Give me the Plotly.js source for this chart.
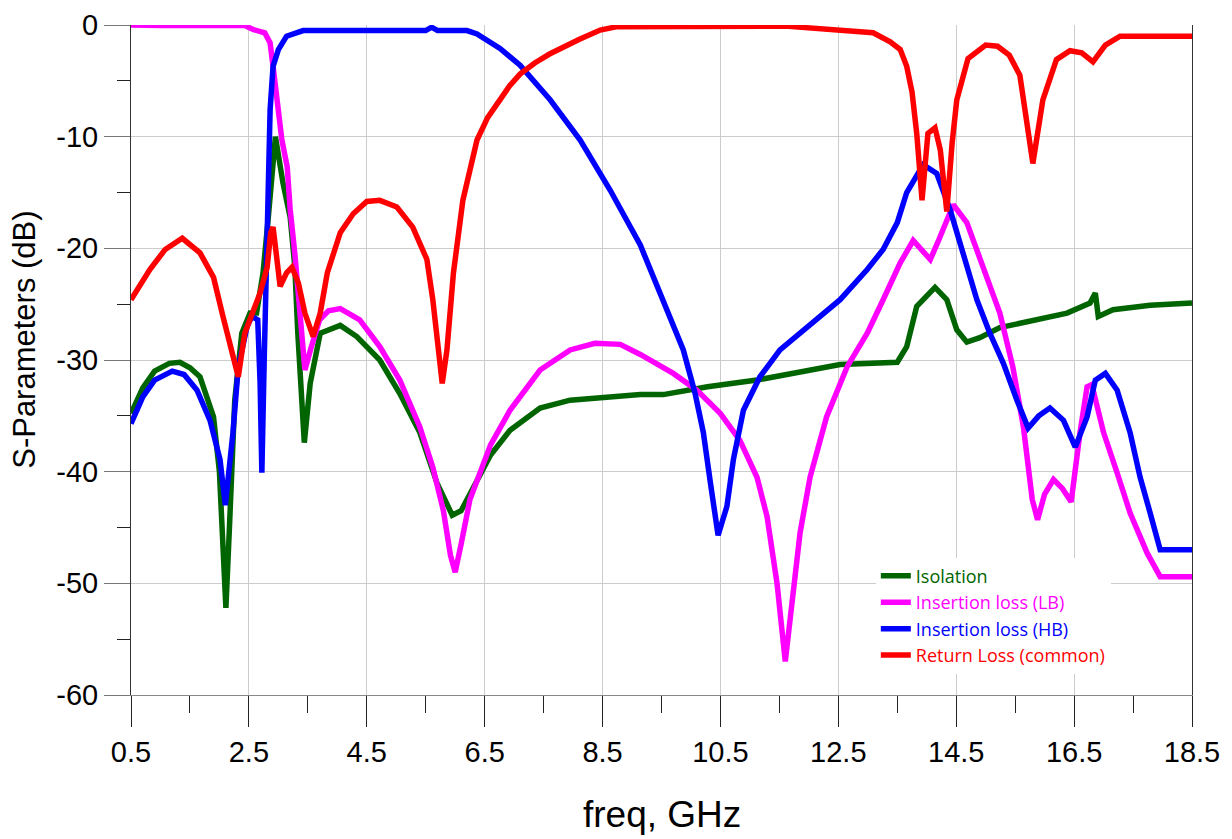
<!DOCTYPE html>
<html>
<head>
<meta charset="utf-8">
<script src="https://cdn.plot.ly/plotly-3.0.1.min.js"></script>
<style>html,body{margin:0;padding:0;background:#fff;}#chart{width:1232px;height:839px;}</style>
</head>
<body>
<div id="chart"></div>
<script>
// Isolation
const isoF  = [0.5,0.7,0.9,1.15,1.33,1.5,1.67,1.9,2.0,2.06,2.11,2.17,2.26,2.38,2.52,2.63,2.74,2.83,2.95,3.08,3.2,3.28,3.33,3.44,3.54,3.71,4.05,4.33,4.72,5.06,5.4,5.69,5.95,6.1,6.25,6.6,6.93,7.44,7.95,8.46,9.14,9.53,10.28,11.12,11.97,12.53,13.5,13.66,13.83,14.14,14.34,14.51,14.68,14.9,15.24,15.8,16.38,16.77,16.86,16.91,17.16,17.79,18.5];
const isoDb = [-34.8,-32.5,-31.0,-30.3,-30.2,-30.7,-31.5,-35.1,-40,-47,-52.2,-45,-33.6,-27.6,-25.8,-25.8,-22.2,-17.2,-10.0,-14.2,-17.2,-21.7,-27.6,-37.4,-32.1,-27.6,-26.9,-27.9,-30.0,-33.0,-36.5,-41.0,-43.9,-43.5,-42,-38.5,-36.3,-34.3,-33.6,-33.4,-33.1,-33.1,-32.4,-31.8,-30.9,-30.4,-30.2,-28.8,-25.2,-23.5,-24.6,-27.3,-28.4,-28.0,-27.1,-26.4,-25.8,-24.9,-24.0,-26.1,-25.5,-25.1,-24.9];

// Insertion loss (LB)
const lbF  = [0.5,1.0,2.43,2.57,2.77,2.86,2.91,2.98,3.06,3.15,3.2,3.28,3.35,3.45,3.55,3.7,3.85,4.05,4.38,4.72,5.06,5.4,5.62,5.8,5.92,6.0,6.1,6.25,6.6,6.93,7.44,7.95,8.37,8.8,9.14,9.7,10.1,10.5,10.83,11.12,11.29,11.46,11.6,11.71,11.85,12.02,12.3,12.65,12.99,13.26,13.55,13.77,13.9,14.06,14.2,14.45,14.68,14.95,15.24,15.46,15.64,15.79,15.88,16.0,16.15,16.3,16.45,16.6,16.72,16.8,17.0,17.23,17.45,17.74,17.96,18.5];
const lbDb = [0,-0.05,-0.05,-0.4,-0.7,-1.6,-3.7,-6.7,-10.3,-12.7,-16.5,-20.5,-24.5,-30.9,-29.0,-26.4,-25.6,-25.4,-26.4,-28.8,-31.8,-36.0,-39.6,-43.5,-47.5,-49.0,-46.5,-42.5,-37.6,-34.5,-30.9,-29.1,-28.5,-28.6,-29.5,-31.2,-32.7,-34.8,-37.2,-40.5,-44.0,-50.0,-57.0,-51.5,-45.5,-40.5,-35.1,-30.6,-27.6,-24.6,-21.3,-19.3,-20.0,-21.0,-19.3,-16.1,-17.7,-21.7,-25.8,-30.6,-36.0,-42.5,-44.3,-42.0,-40.7,-41.5,-42.7,-36.5,-32.4,-32.2,-36.5,-40.1,-43.7,-47.3,-49.4,-49.4];

// Insertion loss (HB)
const hbF  = [0.5,0.7,0.9,1.2,1.4,1.62,1.84,2.01,2.1,2.17,2.23,2.32,2.47,2.55,2.65,2.69,2.72,2.76,2.8,2.86,2.91,3.0,3.14,3.42,5.5,5.6,5.7,6.2,6.37,6.76,7.1,7.61,8.12,8.63,9.14,9.53,9.87,10.07,10.21,10.33,10.46,10.61,10.72,10.89,11.17,11.51,11.97,12.53,12.99,13.26,13.5,13.66,13.94,14.17,14.4,14.62,14.85,15.07,15.3,15.53,15.72,15.9,16.09,16.32,16.52,16.72,16.86,17.03,17.23,17.45,17.62,17.79,17.96,18.5];
const hbDb = [-35.7,-33.3,-31.8,-31.0,-31.3,-32.7,-35.4,-38.9,-43.0,-40.0,-36.5,-30.6,-27.0,-26.1,-26.4,-32,-40.1,-30,-21.7,-7.6,-3.7,-2.2,-1.0,-0.5,-0.5,-0.2,-0.5,-0.5,-0.8,-2.1,-3.6,-6.7,-10.3,-14.8,-19.7,-24.6,-29.1,-33,-36.5,-41,-45.7,-43.1,-38.9,-34.5,-31.5,-29.1,-27.0,-24.6,-21.9,-20.1,-17.7,-15.0,-12.5,-13.3,-16.6,-20.7,-24.6,-27.6,-30.3,-33.6,-36.1,-35.0,-34.3,-35.4,-37.8,-35.1,-31.8,-31.2,-32.7,-36.5,-40.5,-43.7,-47.0,-47.0];

// Return Loss (common)
const rlF  = [0.5,0.82,1.08,1.37,1.67,1.9,2.06,2.21,2.32,2.43,2.55,2.69,2.81,2.87,2.91,2.97,3.03,3.14,3.23,3.34,3.45,3.59,3.71,3.83,4.05,4.27,4.5,4.72,5.01,5.28,5.52,5.62,5.72,5.78,5.86,5.97,6.13,6.37,6.55,6.76,6.93,7.1,7.35,7.6,7.85,8.1,8.46,8.75,11.6,12.14,12.8,13.09,13.38,13.55,13.66,13.75,13.83,13.92,14.02,14.14,14.23,14.34,14.43,14.51,14.7,15.0,15.2,15.4,15.58,15.67,15.8,15.97,16.2,16.43,16.63,16.82,17.03,17.28,18.5];
const rlDb = [-24.6,-21.9,-20.1,-19.1,-20.4,-22.6,-26.1,-29.4,-31.5,-27.6,-25.8,-24.0,-21.7,-18.6,-18.1,-20.4,-23.4,-22.2,-21.7,-23.1,-25.8,-27.9,-25.8,-22.2,-18.6,-16.9,-15.8,-15.7,-16.3,-18.1,-21.0,-24.6,-30.0,-32.1,-29.1,-22.2,-15.7,-10.3,-8.3,-6.6,-5.4,-4.4,-3.4,-2.6,-1.9,-1.3,-0.45,-0.15,-0.1,-0.3,-0.6,-0.7,-1.5,-2.2,-3.7,-6.0,-9.7,-15.7,-9.7,-9.2,-11.2,-16.7,-10.6,-6.7,-3.0,-1.8,-1.9,-2.7,-4.5,-8.0,-12.4,-6.7,-3.1,-2.3,-2.5,-3.3,-1.8,-1.0,-1.0];

const xTicks = [0.5,2.5,4.5,6.5,8.5,10.5,12.5,14.5,16.5,18.5];
const xTickText = ['0.5','2.5','4.5','6.5','8.5','10.5','12.5','14.5','16.5','18.5'];
const yTicks = [-60,-50,-40,-30,-20,-10,0];
const yTickText = ['-60','-50','-40','-30','-20','-10','0'];

const seriesNames = ['Isolation','Insertion loss (LB)','Insertion loss (HB)','Return Loss (common)'];
const seriesColors = ['#006400','#ff00ff','#0000ff','#ff0000'];
const seriesX = [isoF, lbF, hbF, rlF];
const seriesY = [isoDb, lbDb, hbDb, rlDb];

const traces = seriesNames.map((n, i) => ({
  type: 'scatter', mode: 'lines',
  x: seriesX[i], y: seriesY[i],
  name: '<span style="color:' + seriesColors[i] + '">' + n + '</span>',
  line: {color: seriesColors[i], width: 5.5},
  hoverinfo: 'x+y'
}));

const layout = {
  width: 1232, height: 839,
  margin: {l: 131, r: 40, t: 25, b: 144},
  paper_bgcolor: '#ffffff', plot_bgcolor: '#ffffff',
  showlegend: true,
  legend: {
    x: 0.702, y: 0.205, xanchor: 'left', yanchor: 'top',
    bgcolor: '#ffffff', borderwidth: 0,
    font: {family: 'Open Sans, sans-serif', size: 18},
    tracegroupgap: 0
  },
  xaxis: {
    range: [0.5, 18.5], tickmode: 'array', tickvals: xTicks, ticktext: xTickText,
    showgrid: true, gridcolor: '#cccccc', gridwidth: 1,
    showline: true, linecolor: '#888888', linewidth: 1,
    ticks: 'outside', ticklen: 31, tickcolor: '#222222', tickwidth: 1,
    minor: {dtick: 1, tick0: 0.5, ticks: 'outside', ticklen: 17, tickcolor: '#222222', showgrid: false},
    tickfont: {family: 'Liberation Sans, Arial, sans-serif', size: 29, color: '#000000'},
    zeroline: false, fixedrange: true
  },
  yaxis: {
    range: [-60, 0], tickmode: 'array', tickvals: yTicks, ticktext: yTickText,
    showgrid: true, gridcolor: '#cccccc', gridwidth: 1,
    showline: true, linecolor: '#333333', linewidth: 1, mirror: true,
    ticks: 'outside', ticklen: 26, tickcolor: '#777777', tickwidth: 1,
    minor: {dtick: 5, tick0: 0, ticks: 'outside', ticklen: 13, tickcolor: '#222222', showgrid: false},
    tickfont: {family: 'Liberation Sans, Arial, sans-serif', size: 29, color: '#000000'},
    zeroline: false, fixedrange: true
  },
  annotations: [
    {text: 'freq, GHz', xref: 'paper', yref: 'paper', x: 0.5, y: -0.179,
     xanchor: 'center', yanchor: 'middle', showarrow: false,
     font: {family: 'Liberation Sans, Arial, sans-serif', size: 37, color: '#000000'}},
    {text: 'S-Parameters (dB)', xref: 'paper', yref: 'paper', x: -0.1, y: 0.53,
     xanchor: 'center', yanchor: 'middle', showarrow: false, textangle: -90,
     font: {family: 'Liberation Sans, Arial, sans-serif', size: 31, color: '#000000'}}
  ]
};

Plotly.newPlot('chart', traces, layout, {displayModeBar: false, staticPlot: true});
</script>
</body>
</html>
